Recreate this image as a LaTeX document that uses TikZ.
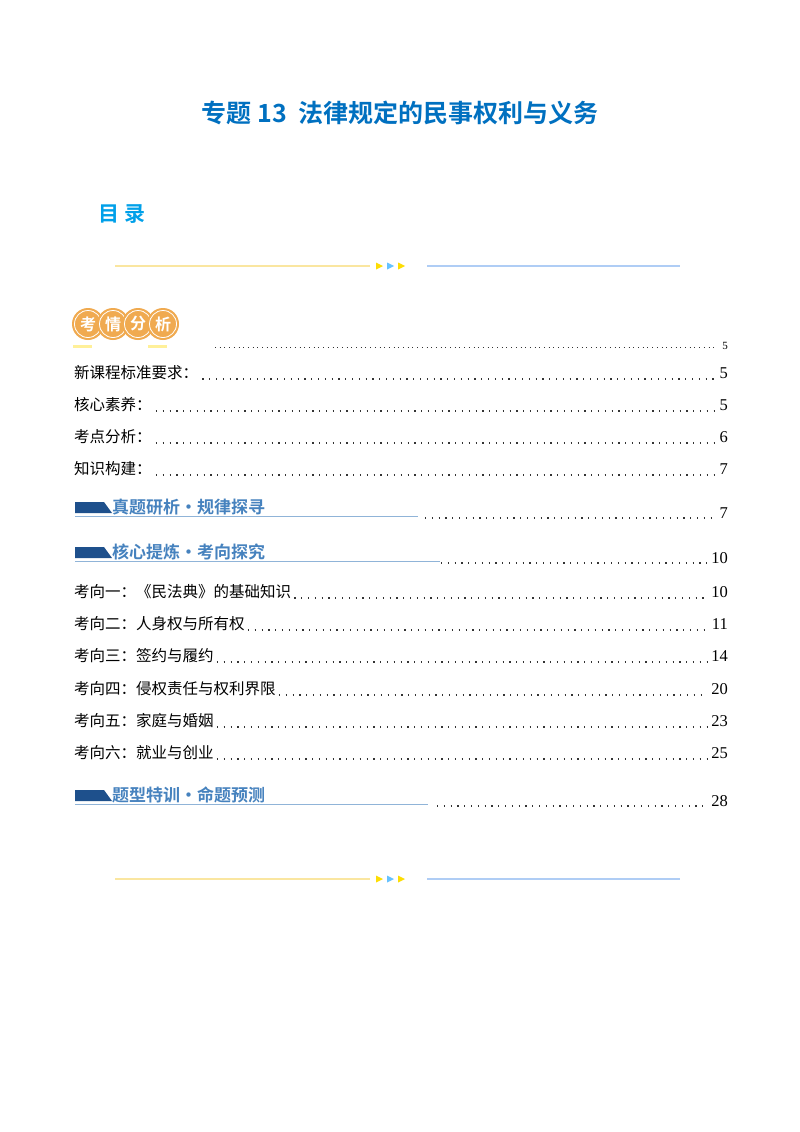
\documentclass[tikz,border=0pt]{standalone}
\usepackage{fontspec}
\setmainfont{Liberation Serif}
\newfontfamily\cjk{Noto Sans CJK SC}
\newfontfamily\cjkb{Noto Sans CJK SC Bold}
\definecolor{ttl}{RGB}{0,112,192}
\definecolor{mulu}{RGB}{0,160,233}
\definecolor{org}{RGB}{240,170,80}
\definecolor{bann}{RGB}{30,80,140}
\definecolor{bantxt}{RGB}{70,130,190}
\definecolor{lblue}{RGB}{175,205,245}
\definecolor{lyel}{RGB}{250,230,160}
\begin{document}
\begin{tikzpicture}[x=1pt,y=-1pt,
 entry/.style={anchor=west,font=\cjk\fontsize{15.5}{15.5}\selectfont,inner sep=0},
 pnum/.style={anchor=east,font=\fontsize{16.5}{16.5}\selectfont,inner sep=0},
 leader/.style={line width=1.2pt,dash pattern=on 1.2pt off 5.6pt,black!80},
 bantext/.style={anchor=west,font=\cjkb\fontsize{17}{17}\selectfont,text=bantxt,inner sep=0}]
\useasboundingbox[fill=white] (0,0) rectangle (800,1132);
\node[font=\cjkb\fontsize{25}{25}\selectfont,text=ttl] (title) at (400,113) {专题 13\ \ 法律规定的民事权利与义务};
\node[font=\cjkb\fontsize{21}{21}\selectfont,text=mulu,anchor=west] (mulu) at (95,214) {目\ 录};
% separators
\foreach \yy/\nm in {266/a,879/b}{
 \draw[lyel,line width=1.2pt] (115,\yy) -- (370,\yy);
 \draw[lblue,line width=1.2pt] (427,\yy) -- (680,\yy);
 \fill[yellow!80!orange] (376,\yy-3.5) -- (383,\yy) -- (376,\yy+3.5) -- cycle;
 \fill[blue!40!cyan!60] (387,\yy-3.5) -- (394,\yy) -- (387,\yy+3.5) -- cycle;
 \fill[yellow!80!orange] (398,\yy-3.5) -- (405,\yy) -- (398,\yy+3.5) -- cycle;
}
% badge
\foreach \c/\t [count=\i] in {88,112,136,160}{}
\foreach \c/\t [count=\i] in {88/考,113/情,138/分,163/析}{
 \fill[org] (\c,324) circle (16);
 \draw[white,line width=0.8pt] (\c,324) circle (13.5);
 \node[font=\cjkb\fontsize{16}{16}\selectfont,text=white] (bd\i) at (\c,324) {\t};
}
\fill[orange!30!yellow!40] (73,345) rectangle (92,348);
\fill[orange!30!yellow!40] (148,345) rectangle (167,348);
\draw[leader,line width=0.9pt,dash pattern=on 0.9pt off 3.8pt] (215,347) -- (717,347);
\node[pnum,font=\fontsize{11}{11}\selectfont] (p0) at (728,346) {5};
% entries
\foreach \yy/\t/\p [count=\i] in {373/新课程标准要求：/5,405/核心素养：/5,437/考点分析：/6,469/知识构建：/7}{
 \node[entry] (e\i) at (74,\yy) {\t};
 \node[pnum] (n\i) at (728,\yy) {\p};
 \coordinate (L\i) at (0,\yy+6);
 \draw[leader] ([xshift=4pt]e\i.east |- L\i) -- ([xshift=-4pt]n\i.west |- L\i);
}
% banners
\foreach \yy/\t/\ul/\dx/\p [count=\i] in {507/真题研析・规律探寻/418/425/7,552/核心提炼・考向探究/440/441/10,795/题型特训・命题预测/428/437/28}{
 \fill[bann] (75,\yy-5) -- (104,\yy-5) -- (112,\yy+6) -- (75,\yy+6) -- cycle;
 \node[bantext] (bt\i) at (112,\yy) {\t};
 \draw[bantxt!60,line width=0.8pt] (75,\yy+9) -- (\ul,\yy+9);
 \node[pnum] (bn\i) at (728,\yy+6) {\p};
 \coordinate (B\i) at (\dx,\yy+11);
 \draw[leader] (B\i) -- ([xshift=-4pt]bn\i.west |- B\i);
}
\foreach \yy/\t/\p [count=\i] in {592/考向一：《民法典》的基础知识/10,624/考向二：人身权与所有权/11,656/考向三：签约与履约/14,689/考向四：侵权责任与权利界限/20,721/考向五：家庭与婚姻/23,753/考向六：就业与创业/25}{
 \node[entry] (k\i) at (74,\yy) {\t};
 \node[pnum] (kn\i) at (728,\yy) {\p};
 \coordinate (K\i) at (0,\yy+6);
 \draw[leader] ([xshift=3pt]k\i.east |- K\i) -- ([xshift=-4pt]kn\i.west |- K\i);
}
\end{tikzpicture}
\end{document}
